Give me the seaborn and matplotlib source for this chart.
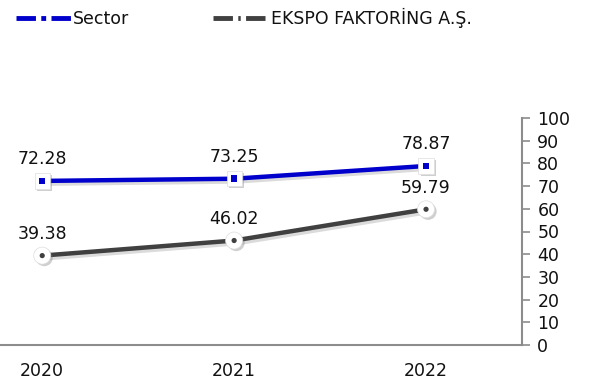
import matplotlib
matplotlib.use("Agg")
import matplotlib.pyplot as plt
import matplotlib.patheffects as pe
from matplotlib.lines import Line2D
import seaborn as sns
import pandas as pd

years = ["2020", "2021", "2022"]
sector = [72.28, 73.25, 78.87]
ekspo = [39.38, 46.02, 59.79]
series_names = ["Sector", "EKSPO FAKTORİNG A.Ş."]
y_ticks = [0, 10, 20, 30, 40, 50, 60, 70, 80, 90, 100]

sns.set_theme(style="white")
plt.rcParams["font.family"] = ["DejaVu Sans"]
FS = 12.5

blue = "#0000CC"
dark = "#404040"
axis_gray = "#8C8C8C"
text_color = "#111111"

df = pd.DataFrame({
    "pos": list(range(len(years))) * 2,
    "value": sector + ekspo,
    "series": [series_names[0]] * len(years) + [series_names[1]] * len(years),
})

fig = plt.figure(figsize=(5.89, 3.83), dpi=100)
ax = fig.add_axes([0.0, 38 / 383, 522 / 589, (345 - 118) / 383])

line_shadow = [pe.SimpleLineShadow(offset=(1.5, -2), shadow_color="#888888", alpha=0.3), pe.Normal()]
sns.lineplot(data=df, x="pos", y="value", hue="series",
             palette={series_names[0]: blue, series_names[1]: dark},
             linewidth=3.2, legend=False, ax=ax)
for ln in ax.get_lines():
    ln.set_path_effects(line_shadow)

# markers: white outer shape with a soft shadow and a small coloured centre
x = list(range(len(years)))
marker_shadow = [pe.SimplePatchShadow(offset=(1.5, -1.5), shadow_rgbFace="#777777", alpha=0.35), pe.Normal()]
outer_s = ax.scatter(x, sector, marker="s", s=120, color="white", zorder=5,
                     edgecolor="#dddddd", linewidth=0.5)
outer_e = ax.scatter(x, ekspo, marker="o", s=150, color="white", zorder=5,
                     edgecolor="#dddddd", linewidth=0.5)
outer_s.set_path_effects(marker_shadow)
outer_e.set_path_effects(marker_shadow)
ax.scatter(x, sector, marker="s", s=22, color=blue, zorder=6, edgecolor="none")
ax.scatter(x, ekspo, marker="o", s=14, color=dark, zorder=6, edgecolor="none")

for xi, v in zip(x, sector):
    ax.annotate(f"{v:.2f}", (xi, v), xytext=(0, 9), textcoords="offset points",
                ha="center", va="bottom", fontsize=FS, color=text_color)
for xi, v in zip(x, ekspo):
    ax.annotate(f"{v:.2f}", (xi, v), xytext=(0, 9), textcoords="offset points",
                ha="center", va="bottom", fontsize=FS, color=text_color)

ax.set_xlim(-0.22, 2.5)
ax.set_ylim(0, 100)
ax.set_xlabel("")
ax.set_ylabel("")

# category labels at points, tick marks at category boundaries
ax.set_xticks(x)
ax.set_xticklabels(years, fontsize=FS, color=text_color)
ax.tick_params(axis="x", length=0, pad=12)
ax.set_xticks([0.5, 1.5, 2.5], minor=True)
ax.tick_params(axis="x", which="minor", length=5, width=1.2, color=axis_gray, direction="out")

ax.yaxis.tick_right()
ax.set_yticks(y_ticks)
ax.set_yticklabels([str(t) for t in y_ticks], fontsize=FS, color=text_color)
ax.tick_params(axis="y", length=6, width=1.2, color=axis_gray, direction="out", pad=5)

for side in ["top", "left"]:
    ax.spines[side].set_visible(False)
for side in ["bottom", "right"]:
    ax.spines[side].set_color(axis_gray)
    ax.spines[side].set_linewidth(1.5)
ax.grid(False)

handles = [
    Line2D([], [], color=blue, linewidth=3.5, linestyle=(0, (4, 1.1, 1.0, 1.1))),
    Line2D([], [], color=dark, linewidth=3.5, linestyle=(0, (4, 1.1, 0.5, 1.1))),
]
fig.legend(handles, series_names, loc="upper left", bbox_to_anchor=(0.0, 1.02),
           ncol=2, frameon=False, fontsize=FS, handlelength=3.2, handletextpad=0.1,
           columnspacing=4.85, labelcolor=text_color)

fig.savefig("out.png", dpi=100)
